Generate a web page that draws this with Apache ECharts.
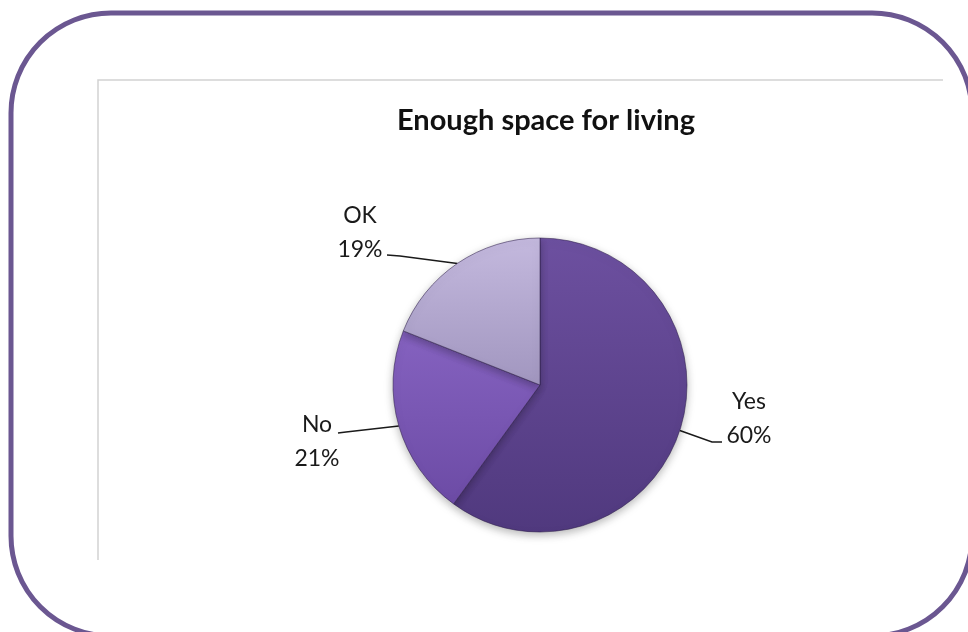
<!DOCTYPE html>
<html>
<head>
<meta charset="utf-8">
<title>Enough space for living</title>
<script src="https://cdn.jsdelivr.net/npm/echarts@6/dist/echarts.min.js"></script>
<style>
  html, body { margin: 0; padding: 0; background: #ffffff; }
  #chart { width: 968px; height: 632px; }
</style>
</head>
<body>
<div id="chart"></div>
<script>
// Survey answers (share of respondents, %)
const categories = ['Yes', 'No', 'OK'];
const shares = [60, 21, 19];
const chartTitle = 'Enough space for living';

// Slice shading: top and bottom stop of a vertical gradient
const sliceColors = [
  ['#6d50a0', '#50397e'],
  ['#8562c0', '#6c4ba5'],
  ['#c4b9de', '#a196bf']
];

// Label placement: label centre and leader elbow / end points
const labelPlacement = [
  { x: 749, y: 419, elbow: [712, 442], end: [722, 442] },
  { x: 317, y: 442, elbow: [346, 432], end: [338, 433] },
  { x: 360, y: 233, elbow: [400, 256], end: [387, 255] }
];

const chart = echarts.init(document.getElementById('chart'), null, { renderer: 'canvas' });

const pieData = categories.map((name, i) => ({
  name: name,
  value: shares[i],
  itemStyle: {
    color: new echarts.graphic.LinearGradient(0, 0, 0, 1, [
      { offset: 0, color: sliceColors[i][0] },
      { offset: 1, color: sliceColors[i][1] }
    ])
  }
}));

chart.setOption({
  backgroundColor: '#ffffff',
  animation: false,
  title: {
    text: chartTitle,
    left: 541,
    top: 101,
    textAlign: 'center',
    textStyle: {
      fontFamily: 'Lato',
      fontWeight: 'bold',
      fontSize: 29,
      color: '#111111'
    }
  },
  graphic: [
    {
      // rounded outer frame
      type: 'rect',
      z: 0,
      shape: { x: 11, y: 13, width: 961, height: 623, r: 100 },
      style: { fill: 'none', stroke: '#6b5791', lineWidth: 5 }
    },
    {
      // chart area border (top and left edges)
      type: 'polyline',
      z: 0,
      shape: { points: [[98, 560], [98, 80], [943, 80]] },
      style: { fill: 'none', stroke: '#d2d2d2', lineWidth: 1.5 }
    }
  ],
  series: [
    {
      type: 'pie',
      center: [540, 385],
      radius: 147,
      startAngle: 90,
      clockwise: true,
      data: pieData,
      itemStyle: {
        borderColor: 'rgba(45, 30, 75, 0.55)',
        borderWidth: 1,
        shadowBlur: 8,
        shadowOffsetY: 3,
        shadowColor: 'rgba(0, 0, 0, 0.28)'
      },
      label: {
        show: true,
        position: 'outside',
        formatter: '{b}\n{c}%',
        fontFamily: 'Lato',
        fontSize: 23,
        lineHeight: 34,
        color: '#1a1a1a',
        align: 'center'
      },
      labelLine: {
        show: true,
        length: 20,
        length2: 10,
        lineStyle: { color: '#1a1a1a', width: 1.5 }
      },
      labelLayout: function (params) {
        const p = labelPlacement[params.dataIndex];
        const edge = params.labelLinePoints ? params.labelLinePoints[0] : p.elbow;
        return {
          x: p.x,
          y: p.y,
          align: 'center',
          verticalAlign: 'middle',
          labelLinePoints: [edge, p.elbow, p.end]
        };
      },
      emphasis: { disabled: true }
    }
  ]
});
</script>
</body>
</html>
